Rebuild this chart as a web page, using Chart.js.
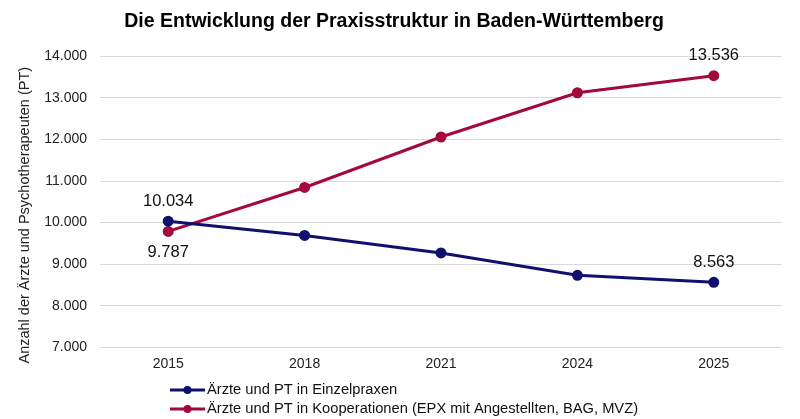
<!DOCTYPE html>
<html lang="de">
<head>
    <meta charset="UTF-8">
    <title>Die Entwicklung der Praxisstruktur in Baden-Württemberg</title>
    <script src="https://cdn.jsdelivr.net/npm/chart.js"></script>
    <style>
        html, body { margin: 0; padding: 0; background: #fff; }
        #wrap { width: 800px; height: 419px; }
    </style>
</head>
<body>
<div id="wrap"><canvas id="praxisChart"></canvas></div>

<script>
    const years = ['2015', '2018', '2021', '2024', '2025'];

    const einzelpraxen = [10034, 9690, 9270, 8730, 8563];
    const kooperationen = [9787, 10845, 12060, 13125, 13536];

    const seriesNames = [
        'Ärzte und PT in Einzelpraxen',
        'Ärzte und PT in Kooperationen (EPX mit Angestellten, BAG, MVZ)'
    ];
    const yTitle = 'Anzahl der Ärzte und Psychotherapeuten (PT)';

    // Beschriftete Punkte: Index und Lage (oben/unten)
    const labelIdx = [[0, 4], [0, 4]];
    const labelPos = [['above', 'above'], ['below', 'above']];

    const yTicks = { min: 7000, max: 14000, step: 1000 };

    const farbeBlau = '#10106e';
    const farbeRot = '#a3093e';
    const fontName = '"Liberation Sans", Arial, sans-serif';

    function fmt(n) {
        return String(Math.round(n)).replace(/\B(?=(\d{3})+(?!\d))/g, '.');
    }

    // Datenbeschriftungen
    const labelPlugin = {
        id: 'pointLabels',
        afterDatasetsDraw(chart) {
            const ctx = chart.ctx;
            ctx.save();
            ctx.font = '16.5px ' + fontName;
            ctx.fillStyle = '#111';
            ctx.textAlign = 'center';
            ctx.textBaseline = 'middle';
            chart.data.datasets.forEach((ds, d) => {
                const meta = chart.getDatasetMeta(d);
                labelIdx[d].forEach((i, k) => {
                    const pt = meta.data[i];
                    const dy = labelPos[d][k] === 'above' ? -20 : 21;
                    ctx.fillText(fmt(ds.data[i]), pt.x, pt.y + dy);
                });
            });
            ctx.restore();
        }
    };

    // Legende untereinander + Achsentitel
    const legendPlugin = {
        id: 'stackedLegend',
        afterDraw(chart) {
            const ctx = chart.ctx;
            const x0 = chart.chartArea.left + 70;
            ctx.save();
            ctx.font = '14.7px ' + fontName;
            ctx.textBaseline = 'middle';
            ctx.textAlign = 'left';
            chart.data.datasets.forEach((ds, d) => {
                const y = chart.height - 29 + d * 19;
                ctx.strokeStyle = ds.borderColor;
                ctx.lineWidth = 3;
                ctx.beginPath();
                ctx.moveTo(x0, y);
                ctx.lineTo(x0 + 35, y);
                ctx.stroke();
                ctx.fillStyle = ds.borderColor;
                ctx.beginPath();
                ctx.arc(x0 + 17.5, y, 4, 0, Math.PI * 2);
                ctx.fill();
                ctx.fillStyle = '#111';
                ctx.fillText(ds.label, x0 + 37, y);
            });

            // y-Achsentitel etwas unterhalb der Mitte, wie im Original
            ctx.translate(25, chart.chartArea.bottom - 132);
            ctx.rotate(-Math.PI / 2);
            ctx.textAlign = 'center';
            ctx.font = '14.5px ' + fontName;
            ctx.fillStyle = '#222';
            ctx.fillText(yTitle, 0, 0);
            ctx.restore();
        }
    };

    const ctx = document.getElementById('praxisChart').getContext('2d');
    new Chart(ctx, {
        type: 'line',
        data: {
            labels: years,
            datasets: [
                {
                    label: seriesNames[0],
                    data: einzelpraxen,
                    borderColor: farbeBlau,
                    backgroundColor: farbeBlau,
                    borderWidth: 3,
                    pointRadius: 4,
                    pointHoverRadius: 4,
                    fill: false,
                    tension: 0
                },
                {
                    label: seriesNames[1],
                    data: kooperationen,
                    borderColor: farbeRot,
                    backgroundColor: farbeRot,
                    borderWidth: 3,
                    pointRadius: 4,
                    pointHoverRadius: 4,
                    fill: false,
                    tension: 0
                }
            ]
        },
        options: {
            responsive: true,
            maintainAspectRatio: false,
            animation: false,
            layout: {
                padding: { top: 3, right: 18, bottom: 37, left: 6 }
            },
            plugins: {
                legend: { display: false },
                tooltip: { enabled: false },
                title: {
                    display: true,
                    text: 'Die Entwicklung der Praxisstruktur in Baden-Württemberg',
                    color: '#000',
                    font: { family: fontName, size: 19.5, weight: 'bold' },
                    padding: { top: 7, bottom: 23 }
                }
            },
            scales: {
                x: {
                    offset: true,
                    grid: { display: false, drawTicks: false },
                    border: { display: false },
                    ticks: {
                        color: '#222',
                        font: { family: fontName, size: 14 },
                        padding: 9
                    }
                },
                y: {
                    min: yTicks.min,
                    max: yTicks.max,
                    afterFit: scale => { scale.width = 94; },
                    grid: { color: '#d9d9d9', lineWidth: 1, drawTicks: false },
                    border: { display: false },
                    ticks: {
                        stepSize: yTicks.step,
                        color: '#222',
                        font: { family: fontName, size: 14 },
                        padding: 13,
                        callback: v => fmt(v)
                    }
                }
            }
        },
        plugins: [labelPlugin, legendPlugin]
    });
</script>
</body>
</html>
